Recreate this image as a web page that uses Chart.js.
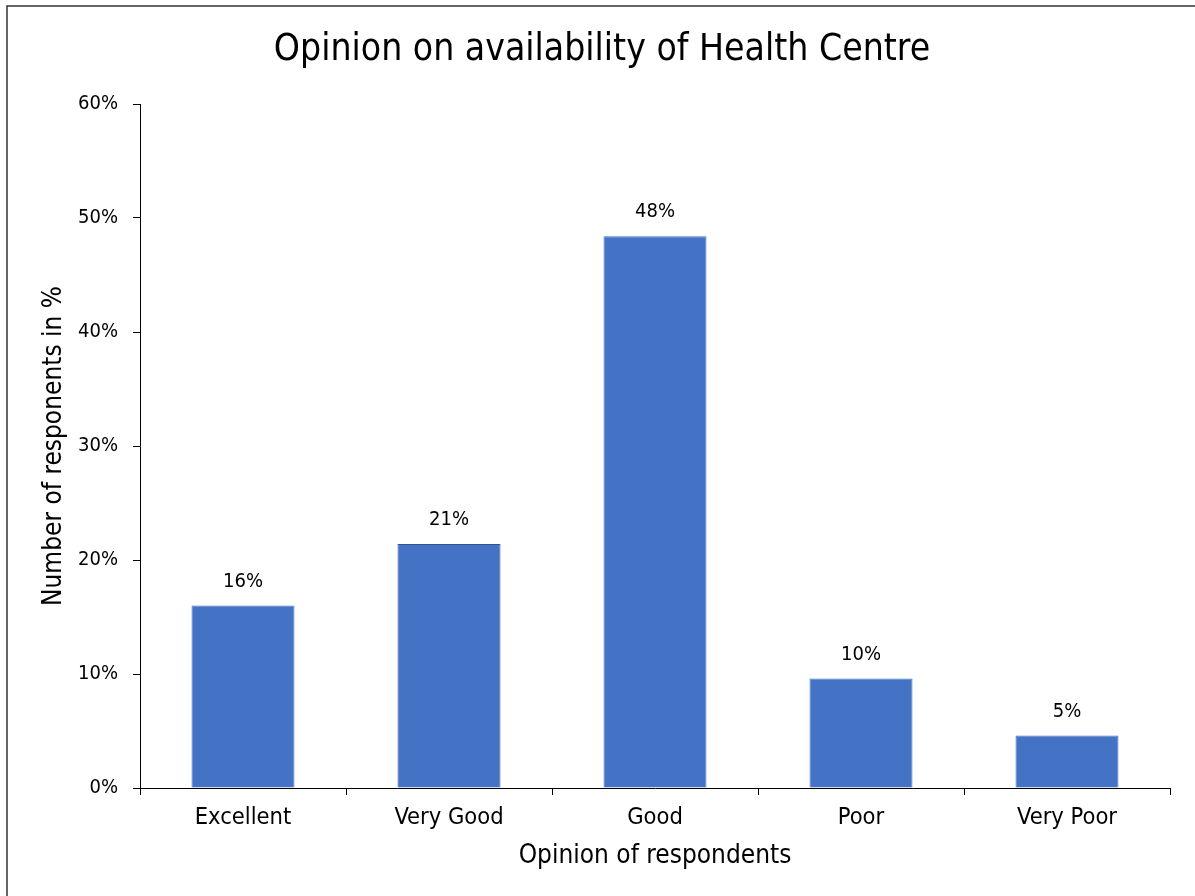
<!DOCTYPE html>
<html>
<head>
<meta charset="utf-8">
<script src="https://cdn.jsdelivr.net/npm/chart.js@4"></script>
<style>
  html, body { margin: 0; padding: 0; background: #fff; }
  #wrap { width: 1195px; height: 896px; position: relative; }
</style>
</head>
<body>
<div id="wrap"><canvas id="c"></canvas></div>
<script>
const categories = ["Excellent", "Very Good", "Good", "Poor", "Very Poor"];
const percentValues = [16.0, 21.4, 48.4, 9.6, 4.6];
const valueLabels = ["16%", "21%", "48%", "10%", "5%"];
const yTickValues = [0, 10, 20, 30, 40, 50, 60];
const chartTitle = 'Opinion on availability of Health Centre';

const FONT = '"DejaVu Sans Condensed", "DejaVu Sans", sans-serif';

const frame = {
  id: 'frame',
  beforeDraw(chart) {
    const ctx = chart.ctx;
    ctx.save();
    ctx.fillStyle = '#fff';
    ctx.fillRect(0, 0, chart.width, chart.height);
    ctx.strokeStyle = '#333';
    ctx.lineWidth = 1.5;
    ctx.beginPath();
    ctx.moveTo(7, chart.height);
    ctx.lineTo(7, 6);
    ctx.lineTo(chart.width, 6);
    ctx.stroke();
    ctx.restore();
  }
};

const titlePlugin = {
  id: 'titleText',
  afterDraw(chart) {
    const ctx = chart.ctx;
    ctx.save();
    ctx.font = '37px ' + FONT;
    ctx.fillStyle = '#000';
    ctx.textAlign = 'center';
    ctx.textBaseline = 'middle';
    ctx.fillText(chartTitle, 602, 50);
    ctx.restore();
  }
};

const barLabels = {
  id: 'barLabels',
  afterDatasetsDraw(chart) {
    const ctx = chart.ctx;
    const meta = chart.getDatasetMeta(0);
    ctx.save();
    ctx.font = '20px ' + FONT;
    ctx.fillStyle = '#000';
    ctx.textAlign = 'center';
    ctx.textBaseline = 'middle';
    meta.data.forEach((bar, i) => {
      ctx.fillText(valueLabels[i], bar.x, bar.y - 24);
    });
    ctx.restore();
  }
};

new Chart(document.getElementById('c'), {
  type: 'bar',
  data: {
    labels: categories,
    datasets: [{
      data: percentValues,
      backgroundColor: '#4472C4',
      borderColor: ['#4472C4', '#2F5597', '#4472C4', '#4472C4', '#4472C4'],
      borderWidth: 1,
      categoryPercentage: 1.0,
      barPercentage: 0.5
    }]
  },
  options: {
    responsive: true,
    maintainAspectRatio: false,
    animation: false,
    layout: { padding: { left: 0, right: 25, top: 104, bottom: 0 } },
    plugins: {
      legend: { display: false },
      tooltip: { enabled: false },
      title: { display: false }
    },
    scales: {
      x: {
        grid: { display: true, drawOnChartArea: false, drawTicks: true, tickLength: 7, color: '#000', offset: true },
        border: { display: true, color: '#000', width: 1 },
        ticks: { color: '#000', font: { family: FONT, size: 23.5 }, padding: 9, maxRotation: 0 },
        title: {
          display: true,
          text: 'Opinion of respondents',
          color: '#000',
          font: { family: FONT, size: 26, lineHeight: 1.2 },
          padding: { top: 0, bottom: 24 }
        },
        afterFit(scale) { scale.height = 108; }
      },
      y: {
        min: 0,
        max: 60,
        grid: { display: true, drawOnChartArea: false, drawTicks: true, tickLength: 7, color: '#000' },
        border: { display: true, color: '#000', width: 1 },
        afterBuildTicks(scale) { scale.ticks = yTickValues.map(v => ({ value: v })); },
        ticks: {
          color: '#000',
          font: { family: FONT, size: 20 },
          padding: 15,
          callback: (v) => v + '%'
        },
        title: {
          display: true,
          text: 'Number of responents in %',
          color: '#000',
          font: { family: FONT, size: 26, lineHeight: 1.2 },
          padding: { top: 39, bottom: 0 }
        },
        afterFit(scale) { scale.width = 140; }
      }
    }
  },
  plugins: [frame, barLabels, titlePlugin]
});
</script>
</body>
</html>
